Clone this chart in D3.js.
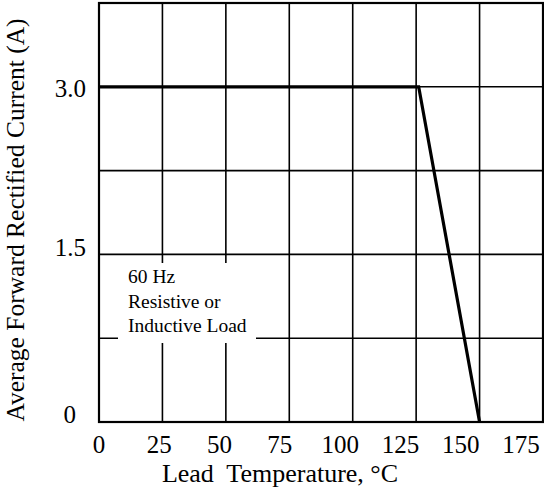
<!DOCTYPE html>
<meta charset="utf-8">
<style>
html, body { margin: 0; background: white; }
svg { display: block; font-family: "Liberation Serif", "Times New Roman", serif; }
.grid line { stroke: #000; stroke-width: 1.6px; }
</style>
<body>
<script src="https://d3js.org/d3.v7.min.js"></script>
<script>

var width = 544,
    height = 492;

// curve: lead temperature (°C) vs current (A)
var tempC = [0, 126, 150];
var currentA = [3.0, 3.0, 0];

var xGrid = [0, 25, 50, 75, 100, 125, 150, 175];
var yGrid = [0, 0.75, 1.5, 2.25, 3.0, 3.75];
var xTickLabels = ["0", "25", "50", "75", "100", "125", "150", "175"];
var yTickValues = [0, 1.5, 3.0];
var yTickLabels = ["0", "1.5", "3.0"];
var noteLines = ["60 Hz", "Resistive or", "Inductive Load"];

var x = d3.scaleLinear().domain([0, 175]).range([99, 543]);
var y = d3.scaleLinear().domain([0, 3.75]).range([422, 3]);
// tick labels in the original sit a bit off the grid lines
var xLabel = d3.scalePoint().domain(xTickLabels).range([99, 521]);

var svg = d3.select("body").append("svg")
    .attr("width", width)
    .attr("height", height);

var grid = svg.append("g").attr("class", "grid");

grid.selectAll(".v")
    .data(xGrid)
  .enter().append("line")
    .attr("class", "v")
    .attr("x1", d => x(d)).attr("x2", d => x(d))
    .attr("y1", y(0)).attr("y2", y(3.75));

grid.selectAll(".h")
    .data(yGrid)
  .enter().append("line")
    .attr("class", "h")
    .attr("x1", x(0)).attr("x2", x(175))
    .attr("y1", d => y(d)).attr("y2", d => y(d));

svg.append("rect")
    .attr("x", x(0)).attr("y", y(3.75))
    .attr("width", x(175) - x(0)).attr("height", y(0) - y(3.75))
    .style("fill", "none").style("stroke", "#000").style("stroke-width", 2.2);

// note box hides the grid behind it
svg.append("rect")
    .attr("x", 118).attr("y", 263)
    .attr("width", 138).attr("height", 80)
    .style("fill", "#fff");

svg.append("g")
    .selectAll("text")
    .data(noteLines)
  .enter().append("text")
    .attr("x", 128)
    .attr("y", (d, i) => 283 + i * 24.5)
    .attr("font-size", "19.5px")
    .text(d => d);

var pts = tempC.map((t, i) => [t, currentA[i]]);
svg.append("path")
    .datum(pts)
    .attr("d", d3.line().x(d => x(d[0])).y(d => y(d[1])))
    .style("fill", "none")
    .style("stroke", "#000")
    .style("stroke-width", 3.2)
    .style("stroke-linejoin", "miter");

svg.append("g")
    .selectAll("text")
    .data(xTickLabels)
  .enter().append("text")
    .attr("x", d => xLabel(d))
    .attr("y", 453)
    .attr("text-anchor", "middle")
    .attr("font-size", "25px")
    .text(d => d);

svg.append("g")
    .selectAll("text")
    .data(yTickValues)
  .enter().append("text")
    .attr("x", (d, i) => [76, 86, 86][i])
    .attr("y", (d, i) => y(d) + [1, 2, 10][i])
    .attr("text-anchor", "end")
    .attr("font-size", "25px")
    .text((d, i) => yTickLabels[i]);

svg.append("text")
    .attr("x", 280)
    .attr("y", 482)
    .attr("text-anchor", "middle")
    .attr("font-size", "26px")
    .attr("xml:space", "preserve")
    .text("Lead  Temperature, \u00B0C");

svg.append("text")
    .attr("transform", "translate(24,220) rotate(-90)")
    .attr("text-anchor", "middle")
    .attr("font-size", "25.5px")
    .text("Average Forward Rectified Current (A)");

</script>
